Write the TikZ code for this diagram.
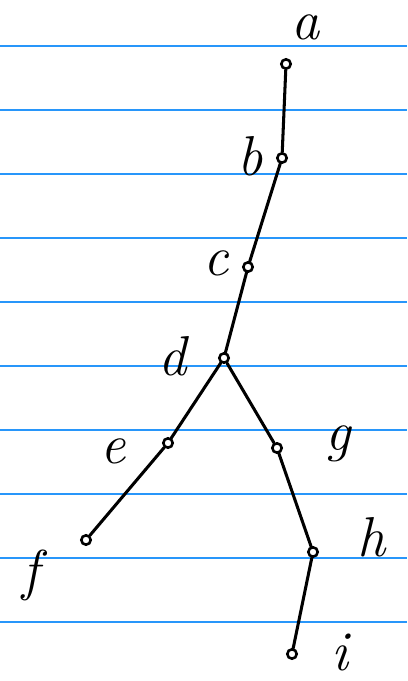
\documentclass[tikz,border=0pt]{standalone}
\definecolor{azulrenglon}{RGB}{40,150,250}
\begin{document}
\begin{tikzpicture}[x=0.03cm,y=-0.03cm,
  vertice/.style={circle,draw,line width=2.2pt,inner sep=0pt,minimum size=8pt},
  arista/.style={line width=2.6pt,line cap=round},
  etiqueta/.style={inner sep=0pt,font=\fontsize{48}{48}\selectfont\itshape},
  renglon/.style={azulrenglon,line width=1.2pt}]
\useasboundingbox (0,0) rectangle (407,681);

% Renglones del cuaderno
\foreach \k in {0,...,9}
  \draw[renglon] (0,{46+64*\k}) -- (407,{46+64*\k});

% Vertices
\node[vertice] (a) at (286,64) {};
\node[vertice] (b) at (282,158) {};
\node[vertice] (c) at (248,267) {};
\node[vertice] (d) at (224,358) {};
\node[vertice] (e) at (168,443) {};
\node[vertice] (f) at (86,540) {};
\node[vertice] (g) at (277,448) {};
\node[vertice] (h) at (313,552) {};
\node[vertice] (i) at (292,654) {};

% Etiquetas
\node[etiqueta] (la) at (306,27) {a};
\node[etiqueta] (lb) at (250,156) {b};
\node[etiqueta] (lc) at (216,263) {c};
\node[etiqueta] (ld) at (173,356) {d};
\node[etiqueta] (le) at (113,451) {e};
\node[etiqueta] (lf) at (31,575) {f};
\node[etiqueta] (lg) at (338,444) {g};
\node[etiqueta] (lh) at (372,537) {h};
\node[etiqueta] (li) at (340,652) {i};

% Aristas
\draw[arista] (a) -- (b);
\draw[arista] (b) -- (c);
\draw[arista] (c) -- (d);
\draw[arista] (d) -- (e);
\draw[arista] (e) -- (f);
\draw[arista] (d) -- (g);
\draw[arista] (g) -- (h);
\draw[arista] (h) -- (i);
\end{tikzpicture}
\end{document}
